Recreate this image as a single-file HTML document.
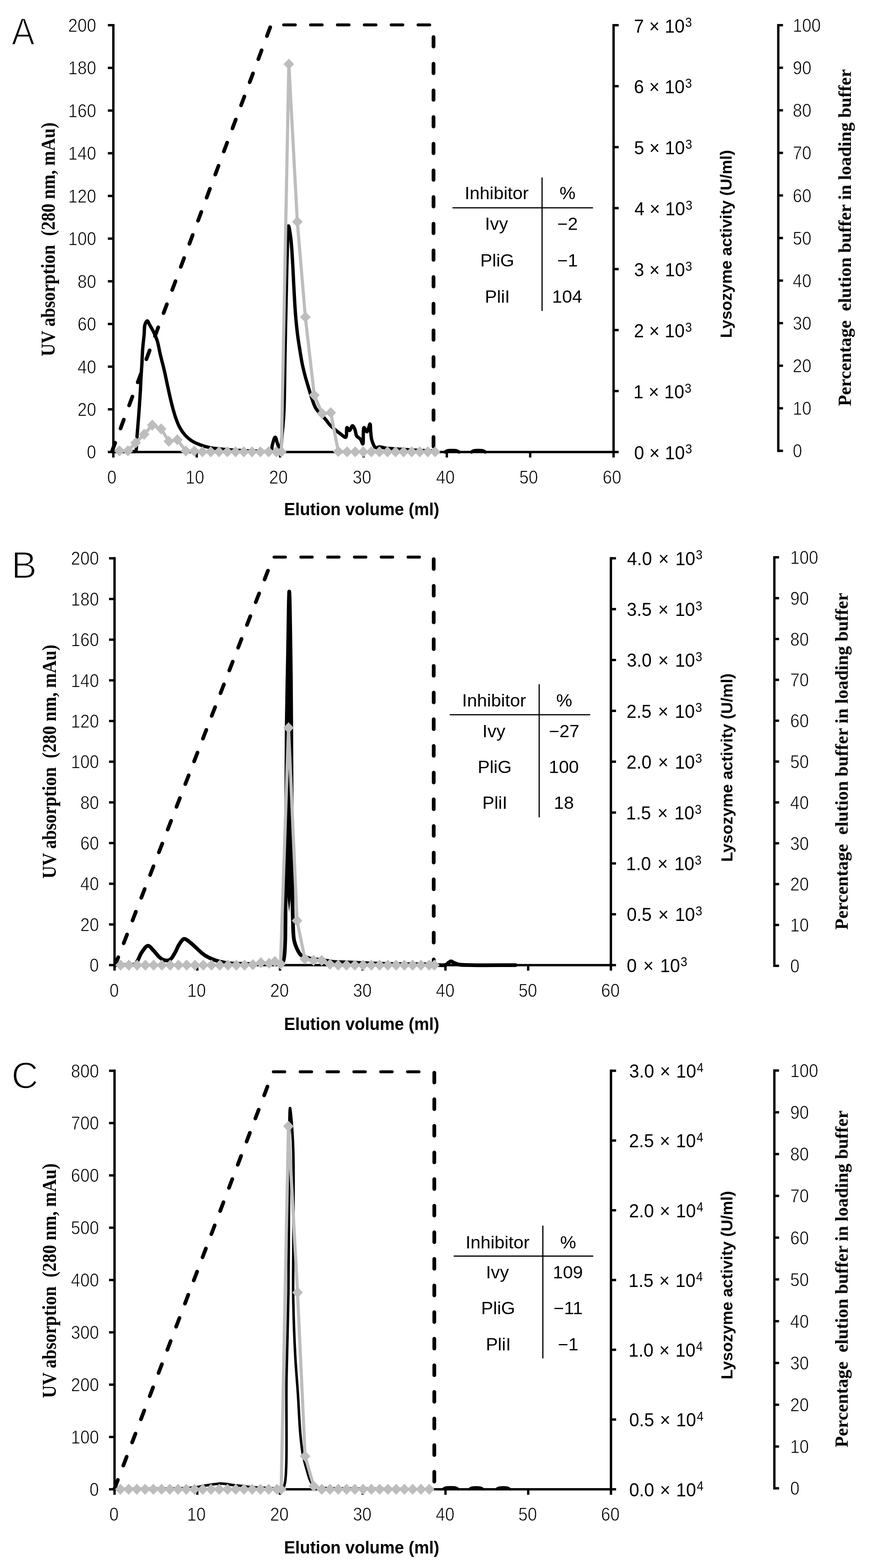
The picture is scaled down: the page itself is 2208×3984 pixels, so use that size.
<!DOCTYPE html>
<html><head><meta charset="utf-8"><title>Lysozyme elution profiles</title>
<style>html,body{margin:0;padding:0;background:#fff;}svg{display:block;}</style></head>
<body><svg width="2208" height="3984" viewBox="0 0 2208 3984">
<rect width="2208" height="3984" fill="#fff"/>
<text transform="translate(29.62,113.2) scale(0.91,1)" font-family='"Liberation Sans", Arial, sans-serif' font-weight="normal" font-size="96.51" fill="#000" stroke="#fff" stroke-width="2.6">A</text>
<line x1="288" y1="61" x2="288" y2="1151.5" stroke="#000" stroke-width="6" stroke-linecap="butt" />
<line x1="288" y1="1148.5" x2="1559" y2="1148.5" stroke="#000" stroke-width="6" stroke-linecap="butt" />
<line x1="1559" y1="61" x2="1559" y2="1151.5" stroke="#000" stroke-width="6" stroke-linecap="butt" />
<line x1="1977.5" y1="61" x2="1977.5" y2="1148.5" stroke="#000" stroke-width="6" stroke-linecap="butt" />
<g stroke="#fff" stroke-width="1.0">
<line x1="274" y1="1148.5" x2="288" y2="1148.5" stroke="#000" stroke-width="6" stroke-linecap="butt" />
<text transform="translate(220.56,1165.43) scale(0.88,1)" font-family='"Liberation Sans", Arial, sans-serif' font-weight="normal" font-size="48.5">0</text>
<line x1="274" y1="1040.05" x2="288" y2="1040.05" stroke="#000" stroke-width="6" stroke-linecap="butt" />
<text transform="translate(196.96,1056.98) scale(0.88,1)" font-family='"Liberation Sans", Arial, sans-serif' font-weight="normal" font-size="48.5">20</text>
<line x1="274" y1="931.6" x2="288" y2="931.6" stroke="#000" stroke-width="6" stroke-linecap="butt" />
<text transform="translate(196.96,948.53) scale(0.88,1)" font-family='"Liberation Sans", Arial, sans-serif' font-weight="normal" font-size="48.5">40</text>
<line x1="274" y1="823.15" x2="288" y2="823.15" stroke="#000" stroke-width="6" stroke-linecap="butt" />
<text transform="translate(196.96,840.08) scale(0.88,1)" font-family='"Liberation Sans", Arial, sans-serif' font-weight="normal" font-size="48.5">60</text>
<line x1="274" y1="714.7" x2="288" y2="714.7" stroke="#000" stroke-width="6" stroke-linecap="butt" />
<text transform="translate(196.96,731.63) scale(0.88,1)" font-family='"Liberation Sans", Arial, sans-serif' font-weight="normal" font-size="48.5">80</text>
<line x1="274" y1="606.25" x2="288" y2="606.25" stroke="#000" stroke-width="6" stroke-linecap="butt" />
<text transform="translate(173.37,623.18) scale(0.88,1)" font-family='"Liberation Sans", Arial, sans-serif' font-weight="normal" font-size="48.5">100</text>
<line x1="274" y1="497.8" x2="288" y2="497.8" stroke="#000" stroke-width="6" stroke-linecap="butt" />
<text transform="translate(173.37,514.73) scale(0.88,1)" font-family='"Liberation Sans", Arial, sans-serif' font-weight="normal" font-size="48.5">120</text>
<line x1="274" y1="389.35" x2="288" y2="389.35" stroke="#000" stroke-width="6" stroke-linecap="butt" />
<text transform="translate(173.37,406.28) scale(0.88,1)" font-family='"Liberation Sans", Arial, sans-serif' font-weight="normal" font-size="48.5">140</text>
<line x1="274" y1="280.9" x2="288" y2="280.9" stroke="#000" stroke-width="6" stroke-linecap="butt" />
<text transform="translate(173.37,297.83) scale(0.88,1)" font-family='"Liberation Sans", Arial, sans-serif' font-weight="normal" font-size="48.5">160</text>
<line x1="274" y1="172.45" x2="288" y2="172.45" stroke="#000" stroke-width="6" stroke-linecap="butt" />
<text transform="translate(173.37,189.38) scale(0.88,1)" font-family='"Liberation Sans", Arial, sans-serif' font-weight="normal" font-size="48.5">180</text>
<line x1="274" y1="64" x2="288" y2="64" stroke="#000" stroke-width="6" stroke-linecap="butt" />
<text transform="translate(173.37,80.93) scale(0.88,1)" font-family='"Liberation Sans", Arial, sans-serif' font-weight="normal" font-size="48.5">200</text>
<line x1="288" y1="1148.5" x2="288" y2="1162.5" stroke="#000" stroke-width="6" stroke-linecap="butt" />
<text transform="translate(272.2,1229) scale(0.88,1)" font-family='"Liberation Sans", Arial, sans-serif' font-weight="normal" font-size="48.5">0</text>
<line x1="499.83" y1="1148.5" x2="499.83" y2="1162.5" stroke="#000" stroke-width="6" stroke-linecap="butt" />
<text transform="translate(471.45,1229) scale(0.88,1)" font-family='"Liberation Sans", Arial, sans-serif' font-weight="normal" font-size="48.5">10</text>
<line x1="711.67" y1="1148.5" x2="711.67" y2="1162.5" stroke="#000" stroke-width="6" stroke-linecap="butt" />
<text transform="translate(683.84,1229) scale(0.88,1)" font-family='"Liberation Sans", Arial, sans-serif' font-weight="normal" font-size="48.5">20</text>
<line x1="923.5" y1="1148.5" x2="923.5" y2="1162.5" stroke="#000" stroke-width="6" stroke-linecap="butt" />
<text transform="translate(895.93,1229) scale(0.88,1)" font-family='"Liberation Sans", Arial, sans-serif' font-weight="normal" font-size="48.5">30</text>
<line x1="1135.33" y1="1148.5" x2="1135.33" y2="1162.5" stroke="#000" stroke-width="6" stroke-linecap="butt" />
<text transform="translate(1108.08,1229) scale(0.88,1)" font-family='"Liberation Sans", Arial, sans-serif' font-weight="normal" font-size="48.5">40</text>
<line x1="1347.17" y1="1148.5" x2="1347.17" y2="1162.5" stroke="#000" stroke-width="6" stroke-linecap="butt" />
<text transform="translate(1319.55,1229) scale(0.88,1)" font-family='"Liberation Sans", Arial, sans-serif' font-weight="normal" font-size="48.5">50</text>
<line x1="1559" y1="1148.5" x2="1559" y2="1162.5" stroke="#000" stroke-width="6" stroke-linecap="butt" />
<text transform="translate(1531.15,1229) scale(0.88,1)" font-family='"Liberation Sans", Arial, sans-serif' font-weight="normal" font-size="48.5">60</text>
</g>
<line x1="1559" y1="1148.5" x2="1572" y2="1148.5" stroke="#000" stroke-width="6" stroke-linecap="butt" />
<text word-spacing="0.53" transform="translate(1611.22,1167) scale(0.94,1)" font-family='"Liberation Sans", Arial, sans-serif' font-weight="normal" font-size="48.5">0 × 10</text>
<text transform="translate(1741.5,1152.45) scale(0.94,1)" font-family='"Liberation Sans", Arial, sans-serif' font-weight="normal" font-size="32.5">3</text>
<line x1="1559" y1="993.57" x2="1572" y2="993.57" stroke="#000" stroke-width="6" stroke-linecap="butt" />
<text word-spacing="0.53" transform="translate(1609.54,1012.07) scale(0.94,1)" font-family='"Liberation Sans", Arial, sans-serif' font-weight="normal" font-size="48.5">1 × 10</text>
<text transform="translate(1739.81,997.52) scale(0.94,1)" font-family='"Liberation Sans", Arial, sans-serif' font-weight="normal" font-size="32.5">3</text>
<line x1="1559" y1="838.64" x2="1572" y2="838.64" stroke="#000" stroke-width="6" stroke-linecap="butt" />
<text word-spacing="0.53" transform="translate(1610.72,857.14) scale(0.94,1)" font-family='"Liberation Sans", Arial, sans-serif' font-weight="normal" font-size="48.5">2 × 10</text>
<text transform="translate(1741,842.59) scale(0.94,1)" font-family='"Liberation Sans", Arial, sans-serif' font-weight="normal" font-size="32.5">3</text>
<line x1="1559" y1="683.71" x2="1572" y2="683.71" stroke="#000" stroke-width="6" stroke-linecap="butt" />
<text word-spacing="0.53" transform="translate(1611.27,702.21) scale(0.94,1)" font-family='"Liberation Sans", Arial, sans-serif' font-weight="normal" font-size="48.5">3 × 10</text>
<text transform="translate(1741.55,687.66) scale(0.94,1)" font-family='"Liberation Sans", Arial, sans-serif' font-weight="normal" font-size="32.5">3</text>
<line x1="1559" y1="528.79" x2="1572" y2="528.79" stroke="#000" stroke-width="6" stroke-linecap="butt" />
<text word-spacing="0.53" transform="translate(1611.95,547.29) scale(0.94,1)" font-family='"Liberation Sans", Arial, sans-serif' font-weight="normal" font-size="48.5">4 × 10</text>
<text transform="translate(1742.23,532.74) scale(0.94,1)" font-family='"Liberation Sans", Arial, sans-serif' font-weight="normal" font-size="32.5">3</text>
<line x1="1559" y1="373.86" x2="1572" y2="373.86" stroke="#000" stroke-width="6" stroke-linecap="butt" />
<text word-spacing="0.53" transform="translate(1611.18,392.36) scale(0.94,1)" font-family='"Liberation Sans", Arial, sans-serif' font-weight="normal" font-size="48.5">5 × 10</text>
<text transform="translate(1741.45,377.81) scale(0.94,1)" font-family='"Liberation Sans", Arial, sans-serif' font-weight="normal" font-size="32.5">3</text>
<line x1="1559" y1="218.93" x2="1572" y2="218.93" stroke="#000" stroke-width="6" stroke-linecap="butt" />
<text word-spacing="0.53" transform="translate(1610.67,237.43) scale(0.94,1)" font-family='"Liberation Sans", Arial, sans-serif' font-weight="normal" font-size="48.5">6 × 10</text>
<text transform="translate(1740.95,222.88) scale(0.94,1)" font-family='"Liberation Sans", Arial, sans-serif' font-weight="normal" font-size="32.5">3</text>
<line x1="1559" y1="64" x2="1572" y2="64" stroke="#000" stroke-width="6" stroke-linecap="butt" />
<text word-spacing="0.53" transform="translate(1610.67,82.5) scale(0.94,1)" font-family='"Liberation Sans", Arial, sans-serif' font-weight="normal" font-size="48.5">7 × 10</text>
<text transform="translate(1740.95,67.95) scale(0.94,1)" font-family='"Liberation Sans", Arial, sans-serif' font-weight="normal" font-size="32.5">3</text>
<g stroke="#fff" stroke-width="1.0">
<line x1="1977.5" y1="1145.5" x2="1989.5" y2="1145.5" stroke="#000" stroke-width="6" stroke-linecap="butt" />
<text transform="translate(2014.34,1162.43) scale(0.88,1)" font-family='"Liberation Sans", Arial, sans-serif' font-size="48.5">0</text>
<line x1="1977.5" y1="1037.35" x2="1989.5" y2="1037.35" stroke="#000" stroke-width="6" stroke-linecap="butt" />
<text transform="translate(2014.34,1054.28) scale(0.88,1)" font-family='"Liberation Sans", Arial, sans-serif' font-size="48.5">10</text>
<line x1="1977.5" y1="929.2" x2="1989.5" y2="929.2" stroke="#000" stroke-width="6" stroke-linecap="butt" />
<text transform="translate(2014.34,946.13) scale(0.88,1)" font-family='"Liberation Sans", Arial, sans-serif' font-size="48.5">20</text>
<line x1="1977.5" y1="821.05" x2="1989.5" y2="821.05" stroke="#000" stroke-width="6" stroke-linecap="butt" />
<text transform="translate(2014.34,837.98) scale(0.88,1)" font-family='"Liberation Sans", Arial, sans-serif' font-size="48.5">30</text>
<line x1="1977.5" y1="712.9" x2="1989.5" y2="712.9" stroke="#000" stroke-width="6" stroke-linecap="butt" />
<text transform="translate(2014.34,729.83) scale(0.88,1)" font-family='"Liberation Sans", Arial, sans-serif' font-size="48.5">40</text>
<line x1="1977.5" y1="604.75" x2="1989.5" y2="604.75" stroke="#000" stroke-width="6" stroke-linecap="butt" />
<text transform="translate(2014.34,621.68) scale(0.88,1)" font-family='"Liberation Sans", Arial, sans-serif' font-size="48.5">50</text>
<line x1="1977.5" y1="496.6" x2="1989.5" y2="496.6" stroke="#000" stroke-width="6" stroke-linecap="butt" />
<text transform="translate(2014.34,513.53) scale(0.88,1)" font-family='"Liberation Sans", Arial, sans-serif' font-size="48.5">60</text>
<line x1="1977.5" y1="388.45" x2="1989.5" y2="388.45" stroke="#000" stroke-width="6" stroke-linecap="butt" />
<text transform="translate(2014.34,405.38) scale(0.88,1)" font-family='"Liberation Sans", Arial, sans-serif' font-size="48.5">70</text>
<line x1="1977.5" y1="280.3" x2="1989.5" y2="280.3" stroke="#000" stroke-width="6" stroke-linecap="butt" />
<text transform="translate(2014.34,297.23) scale(0.88,1)" font-family='"Liberation Sans", Arial, sans-serif' font-size="48.5">80</text>
<line x1="1977.5" y1="172.15" x2="1989.5" y2="172.15" stroke="#000" stroke-width="6" stroke-linecap="butt" />
<text transform="translate(2014.34,189.08) scale(0.88,1)" font-family='"Liberation Sans", Arial, sans-serif' font-size="48.5">90</text>
<line x1="1977.5" y1="64" x2="1989.5" y2="64" stroke="#000" stroke-width="6" stroke-linecap="butt" />
<text transform="translate(2014.34,80.93) scale(0.88,1)" font-family='"Liberation Sans", Arial, sans-serif' font-size="48.5">100</text>
</g>
<text transform="translate(721.75,1308.5) scale(0.95,1)" font-family='"Liberation Sans", Arial, sans-serif' font-weight="bold" font-size="44.77" fill="#000" >Elution volume (ml)</text>
<text transform="translate(139,905.13) rotate(-90) scale(0.88,1)" font-family='"Liberation Serif", "Times New Roman", serif' font-weight="bold" font-size="51.15">UV absorption &#160;(280 nm, mAu)</text>
<text transform="translate(1859.2,858.76) rotate(-90) scale(1.02,1)" font-family='"Liberation Sans", Arial, sans-serif' font-weight="bold" font-size="40.26">Lysozyme activity (U/ml)</text>
<text transform="translate(2161.5,1031.79) rotate(-90) scale(0.98,1)" font-family='"Liberation Serif", "Times New Roman", serif' font-weight="bold" font-size="47.33">Percentage &#160;elution buffer in loading buffer</text>
<line x1="1377.3" y1="451" x2="1377.3" y2="790" stroke="#000" stroke-width="3" stroke-linecap="butt" />
<line x1="1149.6" y1="528" x2="1506.7" y2="528" stroke="#000" stroke-width="3" stroke-linecap="butt" />
<text transform="translate(1180.63,505.6) scale(1.05,1)" font-family='"Liberation Sans", Arial, sans-serif' font-weight="normal" font-size="43.5">Inhibitor</text>
<text transform="translate(1421.67,505.6) scale(1.05,1)" font-family='"Liberation Sans", Arial, sans-serif' font-weight="normal" font-size="43.5">%</text>
<text transform="translate(1232.36,584) scale(1.05,1)" font-family='"Liberation Sans", Arial, sans-serif' font-weight="normal" font-size="43.5">Ivy</text>
<text transform="translate(1415.99,584) scale(1.05,1)" font-family='"Liberation Sans", Arial, sans-serif' font-weight="normal" font-size="43.5">−2</text>
<text transform="translate(1220.3,676.5) scale(1.05,1)" font-family='"Liberation Sans", Arial, sans-serif' font-weight="normal" font-size="43.5">PliG</text>
<text transform="translate(1415.97,676.5) scale(1.05,1)" font-family='"Liberation Sans", Arial, sans-serif' font-weight="normal" font-size="43.5">−1</text>
<text transform="translate(1232.11,769) scale(1.05,1)" font-family='"Liberation Sans", Arial, sans-serif' font-weight="normal" font-size="43.5">PliI</text>
<text transform="translate(1402.83,769) scale(1.05,1)" font-family='"Liberation Sans", Arial, sans-serif' font-weight="normal" font-size="43.5">104</text>
<line x1="285.17" y1="1145.03" x2="292.69" y2="1124.89" stroke="#000" stroke-width="9.5" stroke-linecap="round" />
<line x1="306.18" y1="1088.72" x2="314.57" y2="1066.24" stroke="#000" stroke-width="9.5" stroke-linecap="round" />
<line x1="328.07" y1="1030.07" x2="336.45" y2="1007.59" stroke="#000" stroke-width="9.5" stroke-linecap="round" />
<line x1="349.95" y1="971.42" x2="358.34" y2="948.94" stroke="#000" stroke-width="9.5" stroke-linecap="round" />
<line x1="371.83" y1="912.77" x2="380.22" y2="890.28" stroke="#000" stroke-width="9.5" stroke-linecap="round" />
<line x1="393.71" y1="854.12" x2="402.1" y2="831.63" stroke="#000" stroke-width="9.5" stroke-linecap="round" />
<line x1="415.59" y1="795.47" x2="423.98" y2="772.98" stroke="#000" stroke-width="9.5" stroke-linecap="round" />
<line x1="437.48" y1="736.82" x2="445.87" y2="714.33" stroke="#000" stroke-width="9.5" stroke-linecap="round" />
<line x1="459.36" y1="678.17" x2="467.75" y2="655.68" stroke="#000" stroke-width="9.5" stroke-linecap="round" />
<line x1="481.24" y1="619.52" x2="489.63" y2="597.03" stroke="#000" stroke-width="9.5" stroke-linecap="round" />
<line x1="503.12" y1="560.86" x2="511.51" y2="538.38" stroke="#000" stroke-width="9.5" stroke-linecap="round" />
<line x1="525.01" y1="502.21" x2="533.39" y2="479.73" stroke="#000" stroke-width="9.5" stroke-linecap="round" />
<line x1="546.89" y1="443.56" x2="555.28" y2="421.08" stroke="#000" stroke-width="9.5" stroke-linecap="round" />
<line x1="568.77" y1="384.91" x2="577.16" y2="362.43" stroke="#000" stroke-width="9.5" stroke-linecap="round" />
<line x1="590.65" y1="326.26" x2="599.04" y2="303.78" stroke="#000" stroke-width="9.5" stroke-linecap="round" />
<line x1="612.53" y1="267.61" x2="620.92" y2="245.12" stroke="#000" stroke-width="9.5" stroke-linecap="round" />
<line x1="634.42" y1="208.96" x2="642.81" y2="186.47" stroke="#000" stroke-width="9.5" stroke-linecap="round" />
<line x1="656.3" y1="150.31" x2="664.69" y2="127.82" stroke="#000" stroke-width="9.5" stroke-linecap="round" />
<line x1="678.18" y1="91.66" x2="686.57" y2="69.17" stroke="#000" stroke-width="9.5" stroke-linecap="round" />
<line x1="720.75" y1="63.3" x2="750.25" y2="63.3" stroke="#000" stroke-width="7.5" stroke-linecap="round" />
<line x1="789.05" y1="63.3" x2="818.55" y2="63.3" stroke="#000" stroke-width="7.5" stroke-linecap="round" />
<line x1="857.35" y1="63.3" x2="886.85" y2="63.3" stroke="#000" stroke-width="7.5" stroke-linecap="round" />
<line x1="925.65" y1="63.3" x2="955.15" y2="63.3" stroke="#000" stroke-width="7.5" stroke-linecap="round" />
<line x1="993.95" y1="63.3" x2="1023.45" y2="63.3" stroke="#000" stroke-width="7.5" stroke-linecap="round" />
<line x1="1062.25" y1="63.3" x2="1091.75" y2="63.3" stroke="#000" stroke-width="7.5" stroke-linecap="round" />
<line x1="1101.5" y1="94.25" x2="1101.5" y2="118.25" stroke="#000" stroke-width="9.5" stroke-linecap="round" />
<line x1="1101.5" y1="162" x2="1101.5" y2="186" stroke="#000" stroke-width="9.5" stroke-linecap="round" />
<line x1="1101.5" y1="229.75" x2="1101.5" y2="253.75" stroke="#000" stroke-width="9.5" stroke-linecap="round" />
<line x1="1101.5" y1="297.5" x2="1101.5" y2="321.5" stroke="#000" stroke-width="9.5" stroke-linecap="round" />
<line x1="1101.5" y1="365.25" x2="1101.5" y2="389.25" stroke="#000" stroke-width="9.5" stroke-linecap="round" />
<line x1="1101.5" y1="433" x2="1101.5" y2="457" stroke="#000" stroke-width="9.5" stroke-linecap="round" />
<line x1="1101.5" y1="500.75" x2="1101.5" y2="524.75" stroke="#000" stroke-width="9.5" stroke-linecap="round" />
<line x1="1101.5" y1="568.5" x2="1101.5" y2="592.5" stroke="#000" stroke-width="9.5" stroke-linecap="round" />
<line x1="1101.5" y1="636.25" x2="1101.5" y2="660.25" stroke="#000" stroke-width="9.5" stroke-linecap="round" />
<line x1="1101.5" y1="704" x2="1101.5" y2="728" stroke="#000" stroke-width="9.5" stroke-linecap="round" />
<line x1="1101.5" y1="771.75" x2="1101.5" y2="795.75" stroke="#000" stroke-width="9.5" stroke-linecap="round" />
<line x1="1101.5" y1="839.5" x2="1101.5" y2="863.5" stroke="#000" stroke-width="9.5" stroke-linecap="round" />
<line x1="1101.5" y1="907.25" x2="1101.5" y2="931.25" stroke="#000" stroke-width="9.5" stroke-linecap="round" />
<line x1="1101.5" y1="975" x2="1101.5" y2="999" stroke="#000" stroke-width="9.5" stroke-linecap="round" />
<line x1="1101.5" y1="1042.75" x2="1101.5" y2="1066.75" stroke="#000" stroke-width="9.5" stroke-linecap="round" />
<line x1="1101.5" y1="1110.5" x2="1101.5" y2="1134.5" stroke="#000" stroke-width="9.5" stroke-linecap="round" />
<path d="M290 1147C307.67 1147 337.64 1147.47 343 1147C343.97 1146.92 344.18 1147.26 344.7 1146.7C347.28 1143.89 347.34 1118.36 348.6 1103.5C349.94 1087.68 351.24 1071.58 352.5 1054.5C353.88 1035.8 355.47 1013.32 356.5 995.7C357.34 981.32 357.69 968.64 358.4 956.5C359.01 945.97 359.77 937.53 360.4 927C361.12 914.86 361.42 900.85 362.4 887.8C363.38 874.72 365.27 860.02 366.3 848.6C367.1 839.74 366.26 830.98 368.2 825C369.54 820.86 372.13 815.3 374.1 815.3C376.07 815.3 377.75 821.09 380 825C383.32 830.76 388.45 839.55 391.8 846.7C394.9 853.31 397.26 858.7 399.6 866.3C402.67 876.25 404.64 889.54 407.5 901.6C410.52 914.34 414.15 927.25 417.3 940.8C420.67 955.28 423.7 971.05 427 985.9C430.23 1000.44 433.4 1015.6 436.9 1029C440.01 1040.89 443.14 1052.33 446.7 1062.4C449.75 1071.01 452.5 1078.62 456.5 1085.9C460.38 1092.95 465.1 1099.82 470.2 1105.5C474.96 1110.81 480.11 1115.32 485.9 1119.2C491.84 1123.18 498.41 1126.15 505.5 1129C513.32 1132.14 522.14 1134.95 531 1136.9C540.27 1138.95 549.54 1139.68 560 1140.8C572.25 1142.11 585.91 1143.16 600 1144C615.73 1144.94 634.47 1145.69 650 1146C663.53 1146.27 681.87 1150.75 688 1146C691.88 1143 690.18 1136.57 691.8 1131.3C693.75 1124.97 696.75 1110.69 699.2 1110.7C701.65 1110.71 703.93 1126 706.5 1131.3C708.27 1134.94 710.5 1140.33 712 1140C714.89 1139.36 715.44 1115.67 716.9 1101.9C718.61 1085.68 720.17 1070.95 721.3 1048.8C723.19 1011.95 723.22 950.46 724.2 901.3C725.18 852.16 726.16 800.3 727.2 753.9C728.13 712.38 728.89 668.94 730.1 635.9C730.97 611.96 731.12 574.13 733.1 574C734.54 573.9 737.41 593.95 739 606.4C741.14 623.09 742.17 645.73 743.4 665.4C744.63 685.06 745.25 703.64 746.4 724.4C747.68 747.6 749.01 775.7 750.8 798.1C752.3 816.93 753.98 833.85 756 850C757.78 864.22 759.93 877.12 762 890C763.94 902.07 765.63 913.54 768 925C770.32 936.2 773.2 947.58 776 958C778.55 967.48 781.29 976.01 784 985C786.72 994.01 789.13 1003.1 792.3 1012C795.49 1020.97 797.8 1030.08 803.1 1038.6C809.13 1048.28 821.35 1058.55 827.8 1066.3C832.24 1071.64 834.56 1075.88 838.6 1080.2C842.74 1084.63 847.73 1088.61 852.4 1092.5C856.96 1096.3 861.73 1100.11 866.3 1103.3C870.45 1106.2 875.93 1112.27 878.6 1111C882.09 1109.34 879.29 1086.98 881.7 1086.3C883.22 1085.87 885.81 1094.12 887.9 1094C890.43 1093.85 893.16 1081.73 895.6 1081.7C897.73 1081.68 900.03 1087.28 901.7 1091C903.8 1095.66 903.56 1103.66 906.3 1107.9C908.57 1111.42 913.06 1112.42 915.6 1115.6C918.31 1119 920.28 1128.2 921.8 1127.9C924.45 1127.37 921.53 1087.22 924.8 1086.3C926.64 1085.78 930.17 1097.39 932.5 1097.1C935.46 1096.73 938.67 1076.88 940.2 1077.1C941.63 1077.3 941.08 1089.1 941.8 1095.6C942.6 1102.88 942.72 1111.59 944.9 1118.7C946.95 1125.39 949.94 1135.03 954.1 1137.2C957.12 1138.78 960.99 1135.5 964.9 1135.6C969.59 1135.72 974.83 1137.94 980.3 1138.7C986.44 1139.55 992.28 1139.64 1000 1140.2C1011 1141 1025.31 1142.12 1040 1143C1057.97 1144.08 1080 1145 1100 1146" fill="none" stroke="#000" stroke-width="8.5" stroke-linejoin="round" stroke-linecap="round" />
<path d="M1131 1148.5C1133 1147.5 1134.25 1146.15 1137 1145.5C1142.09 1144.3 1154.91 1144.3 1160 1145.5C1162.75 1146.15 1164 1147.5 1166 1148.5" fill="none" stroke="#000" stroke-width="8.5" stroke-linejoin="round" stroke-linecap="round" />
<path d="M1198 1148.5C1200 1147.5 1201.25 1146.15 1204 1145.5C1209.09 1144.3 1221.91 1144.3 1227 1145.5C1229.75 1146.15 1231 1147.5 1233 1148.5" fill="none" stroke="#000" stroke-width="8.5" stroke-linejoin="round" stroke-linecap="round" />
<polyline points="303.5,1145.5 325,1145.5 344.7,1125 366.3,1103.5 386.9,1080 409.4,1089.8 429,1121.2 450.6,1117.3 472.2,1146 493.7,1146 514.5,1148 535.5,1148 556.5,1148 577.5,1148 598.5,1148 619.5,1148 640.5,1148 661.5,1148 682.5,1148 702.3,1148 714.9,1148 733.9,163 755.5,563.6 775.8,805.5 798.5,1003.9 818.6,1051 840.4,1048.5 859.5,1147 881.9,1148 902.5,1148 923,1148 943.5,1148 964,1148 984.5,1148 1005,1148 1025.5,1148 1046,1148 1066.5,1148 1087,1148 1105.6,1148" fill="none" stroke="#bdbdbd" stroke-width="8" stroke-linejoin="round" stroke-linecap="round" />
<path d="M303.5 1131.5L317 1145.5L303.5 1159.5L290 1145.5ZM325 1131.5L338.5 1145.5L325 1159.5L311.5 1145.5ZM344.7 1111L358.2 1125L344.7 1139L331.2 1125ZM366.3 1089.5L379.8 1103.5L366.3 1117.5L352.8 1103.5ZM386.9 1066L400.4 1080L386.9 1094L373.4 1080ZM409.4 1075.8L422.9 1089.8L409.4 1103.8L395.9 1089.8ZM429 1107.2L442.5 1121.2L429 1135.2L415.5 1121.2ZM450.6 1103.3L464.1 1117.3L450.6 1131.3L437.1 1117.3ZM472.2 1132L485.7 1146L472.2 1160L458.7 1146ZM493.7 1132L507.2 1146L493.7 1160L480.2 1146ZM514.5 1134L528 1148L514.5 1162L501 1148ZM535.5 1134L549 1148L535.5 1162L522 1148ZM556.5 1134L570 1148L556.5 1162L543 1148ZM577.5 1134L591 1148L577.5 1162L564 1148ZM598.5 1134L612 1148L598.5 1162L585 1148ZM619.5 1134L633 1148L619.5 1162L606 1148ZM640.5 1134L654 1148L640.5 1162L627 1148ZM661.5 1134L675 1148L661.5 1162L648 1148ZM682.5 1134L696 1148L682.5 1162L669 1148ZM702.3 1134L715.8 1148L702.3 1162L688.8 1148ZM714.9 1134L728.4 1148L714.9 1162L701.4 1148ZM733.9 149L747.4 163L733.9 177L720.4 163ZM755.5 549.6L769 563.6L755.5 577.6L742 563.6ZM775.8 791.5L789.3 805.5L775.8 819.5L762.3 805.5ZM798.5 989.9L812 1003.9L798.5 1017.9L785 1003.9ZM818.6 1037L832.1 1051L818.6 1065L805.1 1051ZM840.4 1034.5L853.9 1048.5L840.4 1062.5L826.9 1048.5ZM859.5 1133L873 1147L859.5 1161L846 1147ZM881.9 1134L895.4 1148L881.9 1162L868.4 1148ZM902.5 1134L916 1148L902.5 1162L889 1148ZM923 1134L936.5 1148L923 1162L909.5 1148ZM943.5 1134L957 1148L943.5 1162L930 1148ZM964 1134L977.5 1148L964 1162L950.5 1148ZM984.5 1134L998 1148L984.5 1162L971 1148ZM1005 1134L1018.5 1148L1005 1162L991.5 1148ZM1025.5 1134L1039 1148L1025.5 1162L1012 1148ZM1046 1134L1059.5 1148L1046 1162L1032.5 1148ZM1066.5 1134L1080 1148L1066.5 1162L1053 1148ZM1087 1134L1100.5 1148L1087 1162L1073.5 1148ZM1105.6 1134L1119.1 1148L1105.6 1162L1092.1 1148Z" fill="#bdbdbd"/>
<text transform="translate(28.68,1469.2) scale(1,1)" font-family='"Liberation Sans", Arial, sans-serif' font-weight="normal" font-size="97.09" fill="#000" stroke="#fff" stroke-width="2.6">B</text>
<line x1="291" y1="1415.5" x2="291" y2="2455.2" stroke="#000" stroke-width="6" stroke-linecap="butt" />
<line x1="291" y1="2452.2" x2="1552.2" y2="2452.2" stroke="#000" stroke-width="6" stroke-linecap="butt" />
<line x1="1552.2" y1="1415.5" x2="1552.2" y2="2455.2" stroke="#000" stroke-width="6" stroke-linecap="butt" />
<line x1="1967.5" y1="1413" x2="1967.5" y2="2457" stroke="#000" stroke-width="6" stroke-linecap="butt" />
<g stroke="#fff" stroke-width="1.0">
<line x1="277" y1="2452.2" x2="291" y2="2452.2" stroke="#000" stroke-width="6" stroke-linecap="butt" />
<text transform="translate(227.56,2469.13) scale(0.88,1)" font-family='"Liberation Sans", Arial, sans-serif' font-weight="normal" font-size="48.5">0</text>
<line x1="277" y1="2348.83" x2="291" y2="2348.83" stroke="#000" stroke-width="6" stroke-linecap="butt" />
<text transform="translate(203.96,2365.76) scale(0.88,1)" font-family='"Liberation Sans", Arial, sans-serif' font-weight="normal" font-size="48.5">20</text>
<line x1="277" y1="2245.46" x2="291" y2="2245.46" stroke="#000" stroke-width="6" stroke-linecap="butt" />
<text transform="translate(203.96,2262.39) scale(0.88,1)" font-family='"Liberation Sans", Arial, sans-serif' font-weight="normal" font-size="48.5">40</text>
<line x1="277" y1="2142.09" x2="291" y2="2142.09" stroke="#000" stroke-width="6" stroke-linecap="butt" />
<text transform="translate(203.96,2159.02) scale(0.88,1)" font-family='"Liberation Sans", Arial, sans-serif' font-weight="normal" font-size="48.5">60</text>
<line x1="277" y1="2038.72" x2="291" y2="2038.72" stroke="#000" stroke-width="6" stroke-linecap="butt" />
<text transform="translate(203.96,2055.65) scale(0.88,1)" font-family='"Liberation Sans", Arial, sans-serif' font-weight="normal" font-size="48.5">80</text>
<line x1="277" y1="1935.35" x2="291" y2="1935.35" stroke="#000" stroke-width="6" stroke-linecap="butt" />
<text transform="translate(180.37,1952.28) scale(0.88,1)" font-family='"Liberation Sans", Arial, sans-serif' font-weight="normal" font-size="48.5">100</text>
<line x1="277" y1="1831.98" x2="291" y2="1831.98" stroke="#000" stroke-width="6" stroke-linecap="butt" />
<text transform="translate(180.37,1848.91) scale(0.88,1)" font-family='"Liberation Sans", Arial, sans-serif' font-weight="normal" font-size="48.5">120</text>
<line x1="277" y1="1728.61" x2="291" y2="1728.61" stroke="#000" stroke-width="6" stroke-linecap="butt" />
<text transform="translate(180.37,1745.54) scale(0.88,1)" font-family='"Liberation Sans", Arial, sans-serif' font-weight="normal" font-size="48.5">140</text>
<line x1="277" y1="1625.24" x2="291" y2="1625.24" stroke="#000" stroke-width="6" stroke-linecap="butt" />
<text transform="translate(180.37,1642.17) scale(0.88,1)" font-family='"Liberation Sans", Arial, sans-serif' font-weight="normal" font-size="48.5">160</text>
<line x1="277" y1="1521.87" x2="291" y2="1521.87" stroke="#000" stroke-width="6" stroke-linecap="butt" />
<text transform="translate(180.37,1538.8) scale(0.88,1)" font-family='"Liberation Sans", Arial, sans-serif' font-weight="normal" font-size="48.5">180</text>
<line x1="277" y1="1418.5" x2="291" y2="1418.5" stroke="#000" stroke-width="6" stroke-linecap="butt" />
<text transform="translate(180.37,1435.43) scale(0.88,1)" font-family='"Liberation Sans", Arial, sans-serif' font-weight="normal" font-size="48.5">200</text>
<line x1="291" y1="2452.2" x2="291" y2="2466.2" stroke="#000" stroke-width="6" stroke-linecap="butt" />
<text transform="translate(278.2,2533.2) scale(0.88,1)" font-family='"Liberation Sans", Arial, sans-serif' font-weight="normal" font-size="48.5">0</text>
<line x1="501.2" y1="2452.2" x2="501.2" y2="2466.2" stroke="#000" stroke-width="6" stroke-linecap="butt" />
<text transform="translate(475.82,2533.2) scale(0.88,1)" font-family='"Liberation Sans", Arial, sans-serif' font-weight="normal" font-size="48.5">10</text>
<line x1="711.4" y1="2452.2" x2="711.4" y2="2466.2" stroke="#000" stroke-width="6" stroke-linecap="butt" />
<text transform="translate(686.57,2533.2) scale(0.88,1)" font-family='"Liberation Sans", Arial, sans-serif' font-weight="normal" font-size="48.5">20</text>
<line x1="921.6" y1="2452.2" x2="921.6" y2="2466.2" stroke="#000" stroke-width="6" stroke-linecap="butt" />
<text transform="translate(897.03,2533.2) scale(0.88,1)" font-family='"Liberation Sans", Arial, sans-serif' font-weight="normal" font-size="48.5">30</text>
<line x1="1131.8" y1="2452.2" x2="1131.8" y2="2466.2" stroke="#000" stroke-width="6" stroke-linecap="butt" />
<text transform="translate(1107.54,2533.2) scale(0.88,1)" font-family='"Liberation Sans", Arial, sans-serif' font-weight="normal" font-size="48.5">40</text>
<line x1="1342" y1="2452.2" x2="1342" y2="2466.2" stroke="#000" stroke-width="6" stroke-linecap="butt" />
<text transform="translate(1317.38,2533.2) scale(0.88,1)" font-family='"Liberation Sans", Arial, sans-serif' font-weight="normal" font-size="48.5">50</text>
<line x1="1552.2" y1="2452.2" x2="1552.2" y2="2466.2" stroke="#000" stroke-width="6" stroke-linecap="butt" />
<text transform="translate(1527.35,2533.2) scale(0.88,1)" font-family='"Liberation Sans", Arial, sans-serif' font-weight="normal" font-size="48.5">60</text>
</g>
<line x1="1552.2" y1="2452.2" x2="1565.2" y2="2452.2" stroke="#000" stroke-width="6" stroke-linecap="butt" />
<text word-spacing="3.94" transform="translate(1592.52,2469.7) scale(0.94,1)" font-family='"Liberation Sans", Arial, sans-serif' font-weight="normal" font-size="48.5">0 × 10</text>
<text transform="translate(1729.2,2455.15) scale(0.94,1)" font-family='"Liberation Sans", Arial, sans-serif' font-weight="normal" font-size="32.5">3</text>
<line x1="1552.2" y1="2322.99" x2="1565.2" y2="2322.99" stroke="#000" stroke-width="6" stroke-linecap="butt" />
<text word-spacing="3.94" transform="translate(1592.52,2340.49) scale(0.94,1)" font-family='"Liberation Sans", Arial, sans-serif' font-weight="normal" font-size="48.5">0.5 × 10</text>
<text transform="translate(1767.22,2325.94) scale(0.94,1)" font-family='"Liberation Sans", Arial, sans-serif' font-weight="normal" font-size="32.5">3</text>
<line x1="1552.2" y1="2193.77" x2="1565.2" y2="2193.77" stroke="#000" stroke-width="6" stroke-linecap="butt" />
<text word-spacing="3.94" transform="translate(1590.84,2211.27) scale(0.94,1)" font-family='"Liberation Sans", Arial, sans-serif' font-weight="normal" font-size="48.5">1.0 × 10</text>
<text transform="translate(1765.54,2196.72) scale(0.94,1)" font-family='"Liberation Sans", Arial, sans-serif' font-weight="normal" font-size="32.5">3</text>
<line x1="1552.2" y1="2064.56" x2="1565.2" y2="2064.56" stroke="#000" stroke-width="6" stroke-linecap="butt" />
<text word-spacing="3.94" transform="translate(1590.84,2082.06) scale(0.94,1)" font-family='"Liberation Sans", Arial, sans-serif' font-weight="normal" font-size="48.5">1.5 × 10</text>
<text transform="translate(1765.54,2067.51) scale(0.94,1)" font-family='"Liberation Sans", Arial, sans-serif' font-weight="normal" font-size="32.5">3</text>
<line x1="1552.2" y1="1935.35" x2="1565.2" y2="1935.35" stroke="#000" stroke-width="6" stroke-linecap="butt" />
<text word-spacing="3.94" transform="translate(1592.02,1952.85) scale(0.94,1)" font-family='"Liberation Sans", Arial, sans-serif' font-weight="normal" font-size="48.5">2.0 × 10</text>
<text transform="translate(1766.72,1938.3) scale(0.94,1)" font-family='"Liberation Sans", Arial, sans-serif' font-weight="normal" font-size="32.5">3</text>
<line x1="1552.2" y1="1806.14" x2="1565.2" y2="1806.14" stroke="#000" stroke-width="6" stroke-linecap="butt" />
<text word-spacing="3.94" transform="translate(1592.02,1823.64) scale(0.94,1)" font-family='"Liberation Sans", Arial, sans-serif' font-weight="normal" font-size="48.5">2.5 × 10</text>
<text transform="translate(1766.72,1809.09) scale(0.94,1)" font-family='"Liberation Sans", Arial, sans-serif' font-weight="normal" font-size="32.5">3</text>
<line x1="1552.2" y1="1676.92" x2="1565.2" y2="1676.92" stroke="#000" stroke-width="6" stroke-linecap="butt" />
<text word-spacing="3.94" transform="translate(1592.57,1694.42) scale(0.94,1)" font-family='"Liberation Sans", Arial, sans-serif' font-weight="normal" font-size="48.5">3.0 × 10</text>
<text transform="translate(1767.27,1679.88) scale(0.94,1)" font-family='"Liberation Sans", Arial, sans-serif' font-weight="normal" font-size="32.5">3</text>
<line x1="1552.2" y1="1547.71" x2="1565.2" y2="1547.71" stroke="#000" stroke-width="6" stroke-linecap="butt" />
<text word-spacing="3.94" transform="translate(1592.57,1565.21) scale(0.94,1)" font-family='"Liberation Sans", Arial, sans-serif' font-weight="normal" font-size="48.5">3.5 × 10</text>
<text transform="translate(1767.27,1550.66) scale(0.94,1)" font-family='"Liberation Sans", Arial, sans-serif' font-weight="normal" font-size="32.5">3</text>
<line x1="1552.2" y1="1418.5" x2="1565.2" y2="1418.5" stroke="#000" stroke-width="6" stroke-linecap="butt" />
<text word-spacing="3.94" transform="translate(1593.25,1436) scale(0.94,1)" font-family='"Liberation Sans", Arial, sans-serif' font-weight="normal" font-size="48.5">4.0 × 10</text>
<text transform="translate(1767.95,1421.45) scale(0.94,1)" font-family='"Liberation Sans", Arial, sans-serif' font-weight="normal" font-size="32.5">3</text>
<g stroke="#fff" stroke-width="1.0">
<line x1="1967.5" y1="2454" x2="1979.5" y2="2454" stroke="#000" stroke-width="6" stroke-linecap="butt" />
<text transform="translate(2007.74,2470.93) scale(0.88,1)" font-family='"Liberation Sans", Arial, sans-serif' font-size="48.5">0</text>
<line x1="1967.5" y1="2350.2" x2="1979.5" y2="2350.2" stroke="#000" stroke-width="6" stroke-linecap="butt" />
<text transform="translate(2007.74,2367.13) scale(0.88,1)" font-family='"Liberation Sans", Arial, sans-serif' font-size="48.5">10</text>
<line x1="1967.5" y1="2246.4" x2="1979.5" y2="2246.4" stroke="#000" stroke-width="6" stroke-linecap="butt" />
<text transform="translate(2007.74,2263.33) scale(0.88,1)" font-family='"Liberation Sans", Arial, sans-serif' font-size="48.5">20</text>
<line x1="1967.5" y1="2142.6" x2="1979.5" y2="2142.6" stroke="#000" stroke-width="6" stroke-linecap="butt" />
<text transform="translate(2007.74,2159.53) scale(0.88,1)" font-family='"Liberation Sans", Arial, sans-serif' font-size="48.5">30</text>
<line x1="1967.5" y1="2038.8" x2="1979.5" y2="2038.8" stroke="#000" stroke-width="6" stroke-linecap="butt" />
<text transform="translate(2007.74,2055.73) scale(0.88,1)" font-family='"Liberation Sans", Arial, sans-serif' font-size="48.5">40</text>
<line x1="1967.5" y1="1935" x2="1979.5" y2="1935" stroke="#000" stroke-width="6" stroke-linecap="butt" />
<text transform="translate(2007.74,1951.93) scale(0.88,1)" font-family='"Liberation Sans", Arial, sans-serif' font-size="48.5">50</text>
<line x1="1967.5" y1="1831.2" x2="1979.5" y2="1831.2" stroke="#000" stroke-width="6" stroke-linecap="butt" />
<text transform="translate(2007.74,1848.13) scale(0.88,1)" font-family='"Liberation Sans", Arial, sans-serif' font-size="48.5">60</text>
<line x1="1967.5" y1="1727.4" x2="1979.5" y2="1727.4" stroke="#000" stroke-width="6" stroke-linecap="butt" />
<text transform="translate(2007.74,1744.33) scale(0.88,1)" font-family='"Liberation Sans", Arial, sans-serif' font-size="48.5">70</text>
<line x1="1967.5" y1="1623.6" x2="1979.5" y2="1623.6" stroke="#000" stroke-width="6" stroke-linecap="butt" />
<text transform="translate(2007.74,1640.53) scale(0.88,1)" font-family='"Liberation Sans", Arial, sans-serif' font-size="48.5">80</text>
<line x1="1967.5" y1="1519.8" x2="1979.5" y2="1519.8" stroke="#000" stroke-width="6" stroke-linecap="butt" />
<text transform="translate(2007.74,1536.73) scale(0.88,1)" font-family='"Liberation Sans", Arial, sans-serif' font-size="48.5">90</text>
<line x1="1967.5" y1="1416" x2="1979.5" y2="1416" stroke="#000" stroke-width="6" stroke-linecap="butt" />
<text transform="translate(2007.74,1432.93) scale(0.88,1)" font-family='"Liberation Sans", Arial, sans-serif' font-size="48.5">100</text>
</g>
<text transform="translate(721.75,2617) scale(0.95,1)" font-family='"Liberation Sans", Arial, sans-serif' font-weight="bold" font-size="44.77" fill="#000" >Elution volume (ml)</text>
<text transform="translate(141.5,2232.13) rotate(-90) scale(0.88,1)" font-family='"Liberation Serif", "Times New Roman", serif' font-weight="bold" font-size="51.15">UV absorption &#160;(280 nm, mAu)</text>
<text transform="translate(1861,2189.75) rotate(-90) scale(1.03,1)" font-family='"Liberation Sans", Arial, sans-serif' font-weight="bold" font-size="39.97">Lysozyme activity (U/ml)</text>
<text transform="translate(2154,2362.29) rotate(-90) scale(0.98,1)" font-family='"Liberation Serif", "Times New Roman", serif' font-weight="bold" font-size="47.33">Percentage &#160;elution buffer in loading buffer</text>
<line x1="1370" y1="1738.5" x2="1370" y2="2076.8" stroke="#000" stroke-width="3" stroke-linecap="butt" />
<line x1="1142.7" y1="1816" x2="1499.6" y2="1816" stroke="#000" stroke-width="3" stroke-linecap="butt" />
<text transform="translate(1174.03,1795) scale(1.05,1)" font-family='"Liberation Sans", Arial, sans-serif' font-weight="normal" font-size="43.5">Inhibitor</text>
<text transform="translate(1413.17,1795) scale(1.05,1)" font-family='"Liberation Sans", Arial, sans-serif' font-weight="normal" font-size="43.5">%</text>
<text transform="translate(1225.76,1872.7) scale(1.05,1)" font-family='"Liberation Sans", Arial, sans-serif' font-weight="normal" font-size="43.5">Ivy</text>
<text transform="translate(1394.79,1872.7) scale(1.05,1)" font-family='"Liberation Sans", Arial, sans-serif' font-weight="normal" font-size="43.5">−27</text>
<text transform="translate(1213.7,1963.5) scale(1.05,1)" font-family='"Liberation Sans", Arial, sans-serif' font-weight="normal" font-size="43.5">PliG</text>
<text transform="translate(1394.56,1963.5) scale(1.05,1)" font-family='"Liberation Sans", Arial, sans-serif' font-weight="normal" font-size="43.5">100</text>
<text transform="translate(1225.51,2055) scale(1.05,1)" font-family='"Liberation Sans", Arial, sans-serif' font-weight="normal" font-size="43.5">PliI</text>
<text transform="translate(1407.35,2055) scale(1.05,1)" font-family='"Liberation Sans", Arial, sans-serif' font-weight="normal" font-size="43.5">18</text>
<line x1="292.18" y1="2453.53" x2="300.49" y2="2432.09" stroke="#000" stroke-width="9.5" stroke-linecap="round" />
<line x1="314.19" y1="2396.7" x2="322.86" y2="2374.32" stroke="#000" stroke-width="9.5" stroke-linecap="round" />
<line x1="336.57" y1="2338.93" x2="345.23" y2="2316.55" stroke="#000" stroke-width="9.5" stroke-linecap="round" />
<line x1="358.94" y1="2281.16" x2="367.61" y2="2258.78" stroke="#000" stroke-width="9.5" stroke-linecap="round" />
<line x1="381.31" y1="2223.39" x2="389.98" y2="2201.01" stroke="#000" stroke-width="9.5" stroke-linecap="round" />
<line x1="403.68" y1="2165.62" x2="412.35" y2="2143.24" stroke="#000" stroke-width="9.5" stroke-linecap="round" />
<line x1="426.06" y1="2107.85" x2="434.72" y2="2085.47" stroke="#000" stroke-width="9.5" stroke-linecap="round" />
<line x1="448.43" y1="2050.08" x2="457.1" y2="2027.7" stroke="#000" stroke-width="9.5" stroke-linecap="round" />
<line x1="470.8" y1="1992.31" x2="479.47" y2="1969.93" stroke="#000" stroke-width="9.5" stroke-linecap="round" />
<line x1="493.18" y1="1934.55" x2="501.84" y2="1912.17" stroke="#000" stroke-width="9.5" stroke-linecap="round" />
<line x1="515.55" y1="1876.78" x2="524.22" y2="1854.4" stroke="#000" stroke-width="9.5" stroke-linecap="round" />
<line x1="537.92" y1="1819.01" x2="546.59" y2="1796.63" stroke="#000" stroke-width="9.5" stroke-linecap="round" />
<line x1="560.29" y1="1761.24" x2="568.96" y2="1738.86" stroke="#000" stroke-width="9.5" stroke-linecap="round" />
<line x1="582.67" y1="1703.47" x2="591.34" y2="1681.09" stroke="#000" stroke-width="9.5" stroke-linecap="round" />
<line x1="605.04" y1="1645.7" x2="613.71" y2="1623.32" stroke="#000" stroke-width="9.5" stroke-linecap="round" />
<line x1="627.41" y1="1587.93" x2="636.08" y2="1565.55" stroke="#000" stroke-width="9.5" stroke-linecap="round" />
<line x1="649.79" y1="1530.16" x2="658.45" y2="1507.78" stroke="#000" stroke-width="9.5" stroke-linecap="round" />
<line x1="672.16" y1="1472.39" x2="680.83" y2="1450.01" stroke="#000" stroke-width="9.5" stroke-linecap="round" />
<line x1="696.25" y1="1415.6" x2="725.25" y2="1415.6" stroke="#000" stroke-width="7.5" stroke-linecap="round" />
<line x1="764.35" y1="1415.6" x2="793.35" y2="1415.6" stroke="#000" stroke-width="7.5" stroke-linecap="round" />
<line x1="832.45" y1="1415.6" x2="861.45" y2="1415.6" stroke="#000" stroke-width="7.5" stroke-linecap="round" />
<line x1="900.55" y1="1415.6" x2="929.55" y2="1415.6" stroke="#000" stroke-width="7.5" stroke-linecap="round" />
<line x1="968.65" y1="1415.6" x2="997.65" y2="1415.6" stroke="#000" stroke-width="7.5" stroke-linecap="round" />
<line x1="1036.75" y1="1415.6" x2="1065.75" y2="1415.6" stroke="#000" stroke-width="7.5" stroke-linecap="round" />
<line x1="1102" y1="1420.75" x2="1102" y2="1445.75" stroke="#000" stroke-width="9.5" stroke-linecap="round" />
<line x1="1102" y1="1488.55" x2="1102" y2="1513.55" stroke="#000" stroke-width="9.5" stroke-linecap="round" />
<line x1="1102" y1="1556.35" x2="1102" y2="1581.35" stroke="#000" stroke-width="9.5" stroke-linecap="round" />
<line x1="1102" y1="1624.15" x2="1102" y2="1649.15" stroke="#000" stroke-width="9.5" stroke-linecap="round" />
<line x1="1102" y1="1691.95" x2="1102" y2="1716.95" stroke="#000" stroke-width="9.5" stroke-linecap="round" />
<line x1="1102" y1="1759.75" x2="1102" y2="1784.75" stroke="#000" stroke-width="9.5" stroke-linecap="round" />
<line x1="1102" y1="1827.55" x2="1102" y2="1852.55" stroke="#000" stroke-width="9.5" stroke-linecap="round" />
<line x1="1102" y1="1895.35" x2="1102" y2="1920.35" stroke="#000" stroke-width="9.5" stroke-linecap="round" />
<line x1="1102" y1="1963.15" x2="1102" y2="1988.15" stroke="#000" stroke-width="9.5" stroke-linecap="round" />
<line x1="1102" y1="2030.95" x2="1102" y2="2055.95" stroke="#000" stroke-width="9.5" stroke-linecap="round" />
<line x1="1102" y1="2098.75" x2="1102" y2="2123.75" stroke="#000" stroke-width="9.5" stroke-linecap="round" />
<line x1="1102" y1="2166.55" x2="1102" y2="2191.55" stroke="#000" stroke-width="9.5" stroke-linecap="round" />
<line x1="1102" y1="2234.35" x2="1102" y2="2259.35" stroke="#000" stroke-width="9.5" stroke-linecap="round" />
<line x1="1102" y1="2302.15" x2="1102" y2="2327.15" stroke="#000" stroke-width="9.5" stroke-linecap="round" />
<line x1="1102" y1="2369.95" x2="1102" y2="2394.95" stroke="#000" stroke-width="9.5" stroke-linecap="round" />
<line x1="1102" y1="2437.75" x2="1102" y2="2445" stroke="#000" stroke-width="9.5" stroke-linecap="round" />
<polygon points="727,2250 728.5,1840 731.5,1675 734.2,1515 735.8,1515 738.5,1675 740,1840 741.8,2250 734.5,2318" fill="#000"/>
<path d="M293 2451C309.67 2450.67 334.33 2454.63 343 2450C347.28 2447.71 347.61 2444.01 350 2440C353.23 2434.57 355.76 2426.12 360 2420C364.32 2413.77 370.52 2403.32 375.8 2403C380.52 2402.72 385.36 2410.46 390 2415C395.12 2420.01 400.18 2427.79 405 2432C408.6 2435.14 411.45 2437.77 415.5 2439C419.99 2440.36 426.45 2441.3 431 2439C436.61 2436.16 440.96 2426.59 445 2420C448.93 2413.58 451.02 2405.91 455 2400C458.7 2394.51 463.24 2386.33 467.8 2385.5C471.66 2384.8 475.93 2389.2 480 2392C484.76 2395.27 488.87 2399.66 494.3 2404.4C501.53 2410.7 510.7 2420.6 519.5 2426.5C527.56 2431.9 535.65 2435.7 544.7 2439C554.39 2442.53 564.6 2444.92 576 2446.6C589.34 2448.57 603.15 2448.54 620 2449C642.7 2449.62 683.54 2450.02 700 2449C707.39 2448.54 712.56 2449.17 716 2447C718.47 2445.44 719.18 2444.3 720.5 2440C727.58 2416.88 724.68 2288.09 726 2200C727.61 2092.13 727.28 1936.88 728.5 1840C729.32 1774.4 730.43 1730.57 731.5 1675C732.59 1618.26 733.83 1503 735 1503C736.17 1503 737.66 1618.26 738.5 1675C739.32 1730.57 739.52 1774.41 740 1840C740.71 1936.89 741.06 2109.92 742 2200C742.57 2254.14 742.73 2295.07 744 2330C744.86 2353.61 744.26 2373.84 747.4 2389.3C749.52 2399.72 752.93 2407.86 756.5 2414.7C759.22 2419.92 761.32 2424.24 765.6 2427.5C770.6 2431.3 778.64 2433 785.7 2434.8C793.16 2436.7 801.57 2437.33 809.3 2438.4C816.73 2439.42 824.44 2440.09 831.2 2441.1C837.07 2441.98 840.79 2443.28 847.6 2444C858.64 2445.16 875.66 2444.9 891.3 2445.5C909.43 2446.2 931.22 2447.32 950 2448C967.33 2448.63 980.47 2449.11 1000 2449.5C1027.61 2450.05 1081.4 2449.36 1100 2450.5C1107.22 2450.94 1109.76 2452.01 1115 2452.2C1120.72 2452.41 1128.57 2453.13 1133 2451.5C1136.11 2450.36 1137.74 2447.57 1140 2446C1141.96 2444.64 1143.72 2442.61 1145.7 2442.5C1147.72 2442.39 1149.5 2444.43 1152 2445.5C1155.53 2447.02 1159.5 2449.34 1165 2450.5C1173.73 2452.34 1185.08 2451.84 1200 2452.2C1226.44 2452.84 1273.33 2452.2 1310 2452.2" fill="none" stroke="#000" stroke-width="9.5" stroke-linejoin="round" stroke-linecap="round" />
<polyline points="306.4,2452.2 327.4,2452.2 348.4,2452.2 369.4,2452.2 390.4,2452.2 411.4,2452.2 432.4,2452.2 453.4,2452.2 474.4,2452.2 495.4,2452.2 516.4,2452.2 537.4,2452.2 558.4,2452.2 579.4,2452.2 600.4,2452.2 621.4,2452.2 642.4,2451 662.8,2446 683.7,2447.5 698.3,2443 712.8,2449 733.1,1849.2 754.7,2339.2 774.7,2436.6 796.6,2440.2 817.5,2440.2 838.5,2450 859.5,2452.2 880.5,2452.2 901.5,2452.2 922.5,2452.2 943.5,2452.2 964.5,2452.2 985.5,2452.2 1006.5,2452.2 1027.5,2452.2 1048.5,2452.2 1069.5,2452.2 1090.5,2452.2 1103.6,2452.2" fill="none" stroke="#bdbdbd" stroke-width="8" stroke-linejoin="round" stroke-linecap="round" />
<path d="M306.4 2438.2L319.9 2452.2L306.4 2466.2L292.9 2452.2ZM327.4 2438.2L340.9 2452.2L327.4 2466.2L313.9 2452.2ZM348.4 2438.2L361.9 2452.2L348.4 2466.2L334.9 2452.2ZM369.4 2438.2L382.9 2452.2L369.4 2466.2L355.9 2452.2ZM390.4 2438.2L403.9 2452.2L390.4 2466.2L376.9 2452.2ZM411.4 2438.2L424.9 2452.2L411.4 2466.2L397.9 2452.2ZM432.4 2438.2L445.9 2452.2L432.4 2466.2L418.9 2452.2ZM453.4 2438.2L466.9 2452.2L453.4 2466.2L439.9 2452.2ZM474.4 2438.2L487.9 2452.2L474.4 2466.2L460.9 2452.2ZM495.4 2438.2L508.9 2452.2L495.4 2466.2L481.9 2452.2ZM516.4 2438.2L529.9 2452.2L516.4 2466.2L502.9 2452.2ZM537.4 2438.2L550.9 2452.2L537.4 2466.2L523.9 2452.2ZM558.4 2438.2L571.9 2452.2L558.4 2466.2L544.9 2452.2ZM579.4 2438.2L592.9 2452.2L579.4 2466.2L565.9 2452.2ZM600.4 2438.2L613.9 2452.2L600.4 2466.2L586.9 2452.2ZM621.4 2438.2L634.9 2452.2L621.4 2466.2L607.9 2452.2ZM642.4 2437L655.9 2451L642.4 2465L628.9 2451ZM662.8 2432L676.3 2446L662.8 2460L649.3 2446ZM683.7 2433.5L697.2 2447.5L683.7 2461.5L670.2 2447.5ZM698.3 2429L711.8 2443L698.3 2457L684.8 2443ZM712.8 2435L726.3 2449L712.8 2463L699.3 2449ZM733.1 1835.2L746.6 1849.2L733.1 1863.2L719.6 1849.2ZM754.7 2325.2L768.2 2339.2L754.7 2353.2L741.2 2339.2ZM774.7 2422.6L788.2 2436.6L774.7 2450.6L761.2 2436.6ZM796.6 2426.2L810.1 2440.2L796.6 2454.2L783.1 2440.2ZM817.5 2426.2L831 2440.2L817.5 2454.2L804 2440.2ZM838.5 2436L852 2450L838.5 2464L825 2450ZM859.5 2438.2L873 2452.2L859.5 2466.2L846 2452.2ZM880.5 2438.2L894 2452.2L880.5 2466.2L867 2452.2ZM901.5 2438.2L915 2452.2L901.5 2466.2L888 2452.2ZM922.5 2438.2L936 2452.2L922.5 2466.2L909 2452.2ZM943.5 2438.2L957 2452.2L943.5 2466.2L930 2452.2ZM964.5 2438.2L978 2452.2L964.5 2466.2L951 2452.2ZM985.5 2438.2L999 2452.2L985.5 2466.2L972 2452.2ZM1006.5 2438.2L1020 2452.2L1006.5 2466.2L993 2452.2ZM1027.5 2438.2L1041 2452.2L1027.5 2466.2L1014 2452.2ZM1048.5 2438.2L1062 2452.2L1048.5 2466.2L1035 2452.2ZM1069.5 2438.2L1083 2452.2L1069.5 2466.2L1056 2452.2ZM1090.5 2438.2L1104 2452.2L1090.5 2466.2L1077 2452.2ZM1103.6 2438.2L1117.1 2452.2L1103.6 2466.2L1090.1 2452.2Z" fill="#bdbdbd"/>
<text transform="translate(28.98,2765.2) scale(1.01,1)" font-family='"Liberation Sans", Arial, sans-serif' font-weight="normal" font-size="93.7" fill="#000" stroke="#fff" stroke-width="2.6">C</text>
<line x1="291" y1="2717.6" x2="291" y2="3787" stroke="#000" stroke-width="6" stroke-linecap="butt" />
<line x1="291" y1="3784" x2="1552.4" y2="3784" stroke="#000" stroke-width="6" stroke-linecap="butt" />
<line x1="1552.4" y1="2717.6" x2="1552.4" y2="3787" stroke="#000" stroke-width="6" stroke-linecap="butt" />
<line x1="1967.5" y1="2717" x2="1967.5" y2="3784.5" stroke="#000" stroke-width="6" stroke-linecap="butt" />
<g stroke="#fff" stroke-width="1.0">
<line x1="277" y1="3784" x2="291" y2="3784" stroke="#000" stroke-width="6" stroke-linecap="butt" />
<text transform="translate(227.56,3800.93) scale(0.88,1)" font-family='"Liberation Sans", Arial, sans-serif' font-weight="normal" font-size="48.5">0</text>
<line x1="277" y1="3651.07" x2="291" y2="3651.07" stroke="#000" stroke-width="6" stroke-linecap="butt" />
<text transform="translate(180.37,3668) scale(0.88,1)" font-family='"Liberation Sans", Arial, sans-serif' font-weight="normal" font-size="48.5">100</text>
<line x1="277" y1="3518.15" x2="291" y2="3518.15" stroke="#000" stroke-width="6" stroke-linecap="butt" />
<text transform="translate(180.37,3535.08) scale(0.88,1)" font-family='"Liberation Sans", Arial, sans-serif' font-weight="normal" font-size="48.5">200</text>
<line x1="277" y1="3385.22" x2="291" y2="3385.22" stroke="#000" stroke-width="6" stroke-linecap="butt" />
<text transform="translate(180.37,3402.15) scale(0.88,1)" font-family='"Liberation Sans", Arial, sans-serif' font-weight="normal" font-size="48.5">300</text>
<line x1="277" y1="3252.3" x2="291" y2="3252.3" stroke="#000" stroke-width="6" stroke-linecap="butt" />
<text transform="translate(180.37,3269.23) scale(0.88,1)" font-family='"Liberation Sans", Arial, sans-serif' font-weight="normal" font-size="48.5">400</text>
<line x1="277" y1="3119.38" x2="291" y2="3119.38" stroke="#000" stroke-width="6" stroke-linecap="butt" />
<text transform="translate(180.37,3136.3) scale(0.88,1)" font-family='"Liberation Sans", Arial, sans-serif' font-weight="normal" font-size="48.5">500</text>
<line x1="277" y1="2986.45" x2="291" y2="2986.45" stroke="#000" stroke-width="6" stroke-linecap="butt" />
<text transform="translate(180.37,3003.38) scale(0.88,1)" font-family='"Liberation Sans", Arial, sans-serif' font-weight="normal" font-size="48.5">600</text>
<line x1="277" y1="2853.52" x2="291" y2="2853.52" stroke="#000" stroke-width="6" stroke-linecap="butt" />
<text transform="translate(180.37,2870.45) scale(0.88,1)" font-family='"Liberation Sans", Arial, sans-serif' font-weight="normal" font-size="48.5">700</text>
<line x1="277" y1="2720.6" x2="291" y2="2720.6" stroke="#000" stroke-width="6" stroke-linecap="butt" />
<text transform="translate(180.37,2737.53) scale(0.88,1)" font-family='"Liberation Sans", Arial, sans-serif' font-weight="normal" font-size="48.5">800</text>
<line x1="291" y1="3784" x2="291" y2="3798" stroke="#000" stroke-width="6" stroke-linecap="butt" />
<text transform="translate(277.7,3864) scale(0.88,1)" font-family='"Liberation Sans", Arial, sans-serif' font-weight="normal" font-size="48.5">0</text>
<line x1="501.23" y1="3784" x2="501.23" y2="3798" stroke="#000" stroke-width="6" stroke-linecap="butt" />
<text transform="translate(475.35,3864) scale(0.88,1)" font-family='"Liberation Sans", Arial, sans-serif' font-weight="normal" font-size="48.5">10</text>
<line x1="711.47" y1="3784" x2="711.47" y2="3798" stroke="#000" stroke-width="6" stroke-linecap="butt" />
<text transform="translate(686.14,3864) scale(0.88,1)" font-family='"Liberation Sans", Arial, sans-serif' font-weight="normal" font-size="48.5">20</text>
<line x1="921.7" y1="3784" x2="921.7" y2="3798" stroke="#000" stroke-width="6" stroke-linecap="butt" />
<text transform="translate(896.63,3864) scale(0.88,1)" font-family='"Liberation Sans", Arial, sans-serif' font-weight="normal" font-size="48.5">30</text>
<line x1="1131.93" y1="3784" x2="1131.93" y2="3798" stroke="#000" stroke-width="6" stroke-linecap="butt" />
<text transform="translate(1107.18,3864) scale(0.88,1)" font-family='"Liberation Sans", Arial, sans-serif' font-weight="normal" font-size="48.5">40</text>
<line x1="1342.17" y1="3784" x2="1342.17" y2="3798" stroke="#000" stroke-width="6" stroke-linecap="butt" />
<text transform="translate(1317.05,3864) scale(0.88,1)" font-family='"Liberation Sans", Arial, sans-serif' font-weight="normal" font-size="48.5">50</text>
<line x1="1552.4" y1="3784" x2="1552.4" y2="3798" stroke="#000" stroke-width="6" stroke-linecap="butt" />
<text transform="translate(1527.05,3864) scale(0.88,1)" font-family='"Liberation Sans", Arial, sans-serif' font-weight="normal" font-size="48.5">60</text>
</g>
<line x1="1552.4" y1="3784" x2="1565.4" y2="3784" stroke="#000" stroke-width="6" stroke-linecap="butt" />
<text word-spacing="2.13" transform="translate(1598.72,3801.5) scale(0.94,1)" font-family='"Liberation Sans", Arial, sans-serif' font-weight="normal" font-size="48.5">0.0 × 10</text>
<text transform="translate(1770.48,3786.95) scale(0.94,1)" font-family='"Liberation Sans", Arial, sans-serif' font-weight="normal" font-size="32.5">4</text>
<line x1="1552.4" y1="3606.77" x2="1565.4" y2="3606.77" stroke="#000" stroke-width="6" stroke-linecap="butt" />
<text word-spacing="2.13" transform="translate(1598.72,3624.27) scale(0.94,1)" font-family='"Liberation Sans", Arial, sans-serif' font-weight="normal" font-size="48.5">0.5 × 10</text>
<text transform="translate(1770.48,3609.72) scale(0.94,1)" font-family='"Liberation Sans", Arial, sans-serif' font-weight="normal" font-size="32.5">4</text>
<line x1="1552.4" y1="3429.53" x2="1565.4" y2="3429.53" stroke="#000" stroke-width="6" stroke-linecap="butt" />
<text word-spacing="2.13" transform="translate(1597.04,3447.03) scale(0.94,1)" font-family='"Liberation Sans", Arial, sans-serif' font-weight="normal" font-size="48.5">1.0 × 10</text>
<text transform="translate(1768.79,3432.48) scale(0.94,1)" font-family='"Liberation Sans", Arial, sans-serif' font-weight="normal" font-size="32.5">4</text>
<line x1="1552.4" y1="3252.3" x2="1565.4" y2="3252.3" stroke="#000" stroke-width="6" stroke-linecap="butt" />
<text word-spacing="2.13" transform="translate(1597.04,3269.8) scale(0.94,1)" font-family='"Liberation Sans", Arial, sans-serif' font-weight="normal" font-size="48.5">1.5 × 10</text>
<text transform="translate(1768.79,3255.25) scale(0.94,1)" font-family='"Liberation Sans", Arial, sans-serif' font-weight="normal" font-size="32.5">4</text>
<line x1="1552.4" y1="3075.07" x2="1565.4" y2="3075.07" stroke="#000" stroke-width="6" stroke-linecap="butt" />
<text word-spacing="2.13" transform="translate(1598.22,3092.57) scale(0.94,1)" font-family='"Liberation Sans", Arial, sans-serif' font-weight="normal" font-size="48.5">2.0 × 10</text>
<text transform="translate(1769.98,3078.02) scale(0.94,1)" font-family='"Liberation Sans", Arial, sans-serif' font-weight="normal" font-size="32.5">4</text>
<line x1="1552.4" y1="2897.83" x2="1565.4" y2="2897.83" stroke="#000" stroke-width="6" stroke-linecap="butt" />
<text word-spacing="2.13" transform="translate(1598.22,2915.33) scale(0.94,1)" font-family='"Liberation Sans", Arial, sans-serif' font-weight="normal" font-size="48.5">2.5 × 10</text>
<text transform="translate(1769.98,2900.78) scale(0.94,1)" font-family='"Liberation Sans", Arial, sans-serif' font-weight="normal" font-size="32.5">4</text>
<line x1="1552.4" y1="2720.6" x2="1565.4" y2="2720.6" stroke="#000" stroke-width="6" stroke-linecap="butt" />
<text word-spacing="2.13" transform="translate(1598.77,2738.1) scale(0.94,1)" font-family='"Liberation Sans", Arial, sans-serif' font-weight="normal" font-size="48.5">3.0 × 10</text>
<text transform="translate(1770.53,2723.55) scale(0.94,1)" font-family='"Liberation Sans", Arial, sans-serif' font-weight="normal" font-size="32.5">4</text>
<g stroke="#fff" stroke-width="1.0">
<line x1="1967.5" y1="3781.5" x2="1979.5" y2="3781.5" stroke="#000" stroke-width="6" stroke-linecap="butt" />
<text transform="translate(2007.74,3798.43) scale(0.88,1)" font-family='"Liberation Sans", Arial, sans-serif' font-size="48.5">0</text>
<line x1="1967.5" y1="3675.35" x2="1979.5" y2="3675.35" stroke="#000" stroke-width="6" stroke-linecap="butt" />
<text transform="translate(2007.74,3692.28) scale(0.88,1)" font-family='"Liberation Sans", Arial, sans-serif' font-size="48.5">10</text>
<line x1="1967.5" y1="3569.2" x2="1979.5" y2="3569.2" stroke="#000" stroke-width="6" stroke-linecap="butt" />
<text transform="translate(2007.74,3586.13) scale(0.88,1)" font-family='"Liberation Sans", Arial, sans-serif' font-size="48.5">20</text>
<line x1="1967.5" y1="3463.05" x2="1979.5" y2="3463.05" stroke="#000" stroke-width="6" stroke-linecap="butt" />
<text transform="translate(2007.74,3479.98) scale(0.88,1)" font-family='"Liberation Sans", Arial, sans-serif' font-size="48.5">30</text>
<line x1="1967.5" y1="3356.9" x2="1979.5" y2="3356.9" stroke="#000" stroke-width="6" stroke-linecap="butt" />
<text transform="translate(2007.74,3373.83) scale(0.88,1)" font-family='"Liberation Sans", Arial, sans-serif' font-size="48.5">40</text>
<line x1="1967.5" y1="3250.75" x2="1979.5" y2="3250.75" stroke="#000" stroke-width="6" stroke-linecap="butt" />
<text transform="translate(2007.74,3267.68) scale(0.88,1)" font-family='"Liberation Sans", Arial, sans-serif' font-size="48.5">50</text>
<line x1="1967.5" y1="3144.6" x2="1979.5" y2="3144.6" stroke="#000" stroke-width="6" stroke-linecap="butt" />
<text transform="translate(2007.74,3161.53) scale(0.88,1)" font-family='"Liberation Sans", Arial, sans-serif' font-size="48.5">60</text>
<line x1="1967.5" y1="3038.45" x2="1979.5" y2="3038.45" stroke="#000" stroke-width="6" stroke-linecap="butt" />
<text transform="translate(2007.74,3055.38) scale(0.88,1)" font-family='"Liberation Sans", Arial, sans-serif' font-size="48.5">70</text>
<line x1="1967.5" y1="2932.3" x2="1979.5" y2="2932.3" stroke="#000" stroke-width="6" stroke-linecap="butt" />
<text transform="translate(2007.74,2949.23) scale(0.88,1)" font-family='"Liberation Sans", Arial, sans-serif' font-size="48.5">80</text>
<line x1="1967.5" y1="2826.15" x2="1979.5" y2="2826.15" stroke="#000" stroke-width="6" stroke-linecap="butt" />
<text transform="translate(2007.74,2843.08) scale(0.88,1)" font-family='"Liberation Sans", Arial, sans-serif' font-size="48.5">90</text>
<line x1="1967.5" y1="2720" x2="1979.5" y2="2720" stroke="#000" stroke-width="6" stroke-linecap="butt" />
<text transform="translate(2007.74,2736.93) scale(0.88,1)" font-family='"Liberation Sans", Arial, sans-serif' font-size="48.5">100</text>
</g>
<text transform="translate(721.75,3947) scale(0.95,1)" font-family='"Liberation Sans", Arial, sans-serif' font-weight="bold" font-size="44.77" fill="#000" >Elution volume (ml)</text>
<text transform="translate(142,3552.13) rotate(-90) scale(0.91,1)" font-family='"Liberation Serif", "Times New Roman", serif' font-weight="bold" font-size="49.62">UV absorption &#160;(280 nm, mAu)</text>
<text transform="translate(1861,3504.75) rotate(-90) scale(1.03,1)" font-family='"Liberation Sans", Arial, sans-serif' font-weight="bold" font-size="39.97">Lysozyme activity (U/ml)</text>
<text transform="translate(2154,3677.39) rotate(-90) scale(0.98,1)" font-family='"Liberation Serif", "Times New Roman", serif' font-weight="bold" font-size="47.33">Percentage &#160;elution buffer in loading buffer</text>
<line x1="1379.3" y1="3114" x2="1379.3" y2="3451.5" stroke="#000" stroke-width="3" stroke-linecap="butt" />
<line x1="1152.8" y1="3191.6" x2="1507.4" y2="3191.6" stroke="#000" stroke-width="3" stroke-linecap="butt" />
<text transform="translate(1182.93,3172) scale(1.05,1)" font-family='"Liberation Sans", Arial, sans-serif' font-weight="normal" font-size="43.5">Inhibitor</text>
<text transform="translate(1423.17,3172) scale(1.05,1)" font-family='"Liberation Sans", Arial, sans-serif' font-weight="normal" font-size="43.5">%</text>
<text transform="translate(1234.66,3247.5) scale(1.05,1)" font-family='"Liberation Sans", Arial, sans-serif' font-weight="normal" font-size="43.5">Ivy</text>
<text transform="translate(1404.74,3247.5) scale(1.05,1)" font-family='"Liberation Sans", Arial, sans-serif' font-weight="normal" font-size="43.5">109</text>
<text transform="translate(1222.6,3339) scale(1.05,1)" font-family='"Liberation Sans", Arial, sans-serif' font-weight="normal" font-size="43.5">PliG</text>
<text transform="translate(1406.46,3339) scale(1.05,1)" font-family='"Liberation Sans", Arial, sans-serif' font-weight="normal" font-size="43.5">−11</text>
<text transform="translate(1234.41,3430.6) scale(1.05,1)" font-family='"Liberation Sans", Arial, sans-serif' font-weight="normal" font-size="43.5">PliI</text>
<text transform="translate(1417.47,3430.6) scale(1.05,1)" font-family='"Liberation Sans", Arial, sans-serif' font-weight="normal" font-size="43.5">−1</text>
<line x1="290.98" y1="3782.53" x2="299.51" y2="3760.1" stroke="#000" stroke-width="9.5" stroke-linecap="round" />
<line x1="313.34" y1="3723.74" x2="321.87" y2="3701.31" stroke="#000" stroke-width="9.5" stroke-linecap="round" />
<line x1="335.7" y1="3664.95" x2="344.24" y2="3642.52" stroke="#000" stroke-width="9.5" stroke-linecap="round" />
<line x1="358.07" y1="3606.16" x2="366.6" y2="3583.73" stroke="#000" stroke-width="9.5" stroke-linecap="round" />
<line x1="380.43" y1="3547.37" x2="388.96" y2="3524.94" stroke="#000" stroke-width="9.5" stroke-linecap="round" />
<line x1="402.79" y1="3488.58" x2="411.32" y2="3466.15" stroke="#000" stroke-width="9.5" stroke-linecap="round" />
<line x1="425.15" y1="3429.79" x2="433.69" y2="3407.36" stroke="#000" stroke-width="9.5" stroke-linecap="round" />
<line x1="447.52" y1="3371" x2="456.05" y2="3348.57" stroke="#000" stroke-width="9.5" stroke-linecap="round" />
<line x1="469.88" y1="3312.21" x2="478.41" y2="3289.78" stroke="#000" stroke-width="9.5" stroke-linecap="round" />
<line x1="492.24" y1="3253.42" x2="500.77" y2="3230.99" stroke="#000" stroke-width="9.5" stroke-linecap="round" />
<line x1="514.6" y1="3194.63" x2="523.14" y2="3172.2" stroke="#000" stroke-width="9.5" stroke-linecap="round" />
<line x1="536.97" y1="3135.84" x2="545.5" y2="3113.4" stroke="#000" stroke-width="9.5" stroke-linecap="round" />
<line x1="559.33" y1="3077.05" x2="567.86" y2="3054.61" stroke="#000" stroke-width="9.5" stroke-linecap="round" />
<line x1="581.69" y1="3018.26" x2="590.22" y2="2995.82" stroke="#000" stroke-width="9.5" stroke-linecap="round" />
<line x1="604.05" y1="2959.47" x2="612.59" y2="2937.03" stroke="#000" stroke-width="9.5" stroke-linecap="round" />
<line x1="626.42" y1="2900.67" x2="634.95" y2="2878.24" stroke="#000" stroke-width="9.5" stroke-linecap="round" />
<line x1="648.78" y1="2841.88" x2="657.31" y2="2819.45" stroke="#000" stroke-width="9.5" stroke-linecap="round" />
<line x1="671.14" y1="2783.09" x2="679.67" y2="2760.66" stroke="#000" stroke-width="9.5" stroke-linecap="round" />
<line x1="694.55" y1="2723.3" x2="723.55" y2="2723.3" stroke="#000" stroke-width="7.5" stroke-linecap="round" />
<line x1="762.75" y1="2723.3" x2="791.75" y2="2723.3" stroke="#000" stroke-width="7.5" stroke-linecap="round" />
<line x1="830.95" y1="2723.3" x2="859.95" y2="2723.3" stroke="#000" stroke-width="7.5" stroke-linecap="round" />
<line x1="899.15" y1="2723.3" x2="928.15" y2="2723.3" stroke="#000" stroke-width="7.5" stroke-linecap="round" />
<line x1="967.35" y1="2723.3" x2="996.35" y2="2723.3" stroke="#000" stroke-width="7.5" stroke-linecap="round" />
<line x1="1035.55" y1="2723.3" x2="1064.55" y2="2723.3" stroke="#000" stroke-width="7.5" stroke-linecap="round" />
<line x1="1103.5" y1="2725.5" x2="1103.5" y2="2750.5" stroke="#000" stroke-width="9.5" stroke-linecap="round" />
<line x1="1103.5" y1="2793.1" x2="1103.5" y2="2818.1" stroke="#000" stroke-width="9.5" stroke-linecap="round" />
<line x1="1103.5" y1="2860.7" x2="1103.5" y2="2885.7" stroke="#000" stroke-width="9.5" stroke-linecap="round" />
<line x1="1103.5" y1="2928.3" x2="1103.5" y2="2953.3" stroke="#000" stroke-width="9.5" stroke-linecap="round" />
<line x1="1103.5" y1="2995.9" x2="1103.5" y2="3020.9" stroke="#000" stroke-width="9.5" stroke-linecap="round" />
<line x1="1103.5" y1="3063.5" x2="1103.5" y2="3088.5" stroke="#000" stroke-width="9.5" stroke-linecap="round" />
<line x1="1103.5" y1="3131.1" x2="1103.5" y2="3156.1" stroke="#000" stroke-width="9.5" stroke-linecap="round" />
<line x1="1103.5" y1="3198.7" x2="1103.5" y2="3223.7" stroke="#000" stroke-width="9.5" stroke-linecap="round" />
<line x1="1103.5" y1="3266.3" x2="1103.5" y2="3291.3" stroke="#000" stroke-width="9.5" stroke-linecap="round" />
<line x1="1103.5" y1="3333.9" x2="1103.5" y2="3358.9" stroke="#000" stroke-width="9.5" stroke-linecap="round" />
<line x1="1103.5" y1="3401.5" x2="1103.5" y2="3426.5" stroke="#000" stroke-width="9.5" stroke-linecap="round" />
<line x1="1103.5" y1="3469.1" x2="1103.5" y2="3494.1" stroke="#000" stroke-width="9.5" stroke-linecap="round" />
<line x1="1103.5" y1="3536.7" x2="1103.5" y2="3561.7" stroke="#000" stroke-width="9.5" stroke-linecap="round" />
<line x1="1103.5" y1="3604.3" x2="1103.5" y2="3629.3" stroke="#000" stroke-width="9.5" stroke-linecap="round" />
<line x1="1103.5" y1="3671.9" x2="1103.5" y2="3696.9" stroke="#000" stroke-width="9.5" stroke-linecap="round" />
<line x1="1103.5" y1="3739.5" x2="1103.5" y2="3764.5" stroke="#000" stroke-width="9.5" stroke-linecap="round" />
<path d="M293 3783C328.67 3782.83 368.1 3782.92 400 3782.5C425.8 3782.16 451.74 3781.98 470 3781C481.77 3780.37 489.64 3779.72 499 3778.5C507.88 3777.35 516.72 3775.3 524.8 3774C531.94 3772.85 538.72 3771.77 545 3771C550.44 3770.33 555.25 3769.58 560.3 3769.5C565.25 3769.43 570.15 3769.91 575 3770.5C579.82 3771.08 583.68 3772.22 589.3 3773C597.26 3774.11 610.05 3775.06 618.3 3776C624.45 3776.7 627.65 3777.4 634.4 3778C645.72 3779.01 665.49 3780.01 680 3780.5C693.24 3780.95 711.24 3785.26 718 3781C722.07 3778.44 722.17 3775.64 723.8 3768.5C731.02 3736.97 726.39 3585.04 728 3500C729.46 3423.01 731.81 3357.75 732.9 3280C734.13 3192.29 733.72 3083.66 734.5 3000C735.14 2932.05 734.47 2815.43 736.9 2815.3C737.96 2815.24 739.81 2836.4 741 2850C742.69 2869.26 744.16 2895.88 745 2920C745.9 2945.77 745.86 2969.18 746 3000C746.19 3042.21 745.67 3100.51 745.5 3150C745.33 3198.49 744.27 3245.72 745 3294C745.74 3342.88 747.7 3397 750 3441.5C751.9 3478.33 754.82 3508.76 757 3542.4C759.18 3576.03 760.58 3615.46 763.1 3643.3C764.89 3663.05 766.28 3677.99 769.2 3693.8C771.84 3708.1 775.68 3721.76 779.3 3734.2C782.47 3745.09 784.94 3756.63 789.4 3764.5C792.8 3770.5 795.85 3775.71 801.5 3778.6C808.51 3782.19 818.39 3780.43 830 3781C848.17 3781.89 874.59 3781.69 900 3782C930.37 3782.37 966.67 3782.75 1000 3783C1033.33 3783.25 1066.67 3783.33 1100 3783.5" fill="none" stroke="#000" stroke-width="6.5" stroke-linejoin="round" stroke-linecap="round" />
<path d="M1125 3784C1127 3782.77 1128.1 3781.12 1131 3780.3C1136.77 3778.66 1153.23 3778.66 1159 3780.3C1161.9 3781.12 1163 3782.77 1165 3784" fill="none" stroke="#000" stroke-width="6.5" stroke-linejoin="round" stroke-linecap="round" />
<path d="M1192 3784C1194 3782.77 1195.18 3781.1 1198 3780.3C1203.21 3778.82 1216.79 3778.82 1222 3780.3C1224.82 3781.1 1226 3782.77 1228 3784" fill="none" stroke="#000" stroke-width="6.5" stroke-linejoin="round" stroke-linecap="round" />
<path d="M1261 3784C1263 3782.77 1264.2 3781.09 1267 3780.3C1272.06 3778.87 1284.94 3778.87 1290 3780.3C1292.8 3781.09 1294 3782.77 1296 3784" fill="none" stroke="#000" stroke-width="6.5" stroke-linejoin="round" stroke-linecap="round" />
<polyline points="305.8,3784 326.74,3784 347.68,3784 368.62,3784 389.56,3784 410.5,3784 431.44,3784 452.38,3784 473.32,3784 494.26,3784 515.2,3784 536.14,3784 557.08,3784 578.02,3784 598.96,3784 619.9,3784 640.84,3784 661.78,3784 682.72,3784 703.66,3784 714.5,3784 732.9,2861.8 756,3284 775.2,3699.9 797,3776 817.6,3784 838.6,3784 859.6,3784 880.6,3784 901.6,3784 922.6,3784 943.6,3784 964.6,3784 985.6,3784 1006.6,3784 1027.6,3784 1048.6,3784 1069.6,3784 1090.6,3784" fill="none" stroke="#bdbdbd" stroke-width="8" stroke-linejoin="round" stroke-linecap="round" />
<path d="M305.8 3770L319.3 3784L305.8 3798L292.3 3784ZM326.74 3770L340.24 3784L326.74 3798L313.24 3784ZM347.68 3770L361.18 3784L347.68 3798L334.18 3784ZM368.62 3770L382.12 3784L368.62 3798L355.12 3784ZM389.56 3770L403.06 3784L389.56 3798L376.06 3784ZM410.5 3770L424 3784L410.5 3798L397 3784ZM431.44 3770L444.94 3784L431.44 3798L417.94 3784ZM452.38 3770L465.88 3784L452.38 3798L438.88 3784ZM473.32 3770L486.82 3784L473.32 3798L459.82 3784ZM494.26 3770L507.76 3784L494.26 3798L480.76 3784ZM515.2 3770L528.7 3784L515.2 3798L501.7 3784ZM536.14 3770L549.64 3784L536.14 3798L522.64 3784ZM557.08 3770L570.58 3784L557.08 3798L543.58 3784ZM578.02 3770L591.52 3784L578.02 3798L564.52 3784ZM598.96 3770L612.46 3784L598.96 3798L585.46 3784ZM619.9 3770L633.4 3784L619.9 3798L606.4 3784ZM640.84 3770L654.34 3784L640.84 3798L627.34 3784ZM661.78 3770L675.28 3784L661.78 3798L648.28 3784ZM682.72 3770L696.22 3784L682.72 3798L669.22 3784ZM703.66 3770L717.16 3784L703.66 3798L690.16 3784ZM714.5 3770L728 3784L714.5 3798L701 3784ZM732.9 2847.8L746.4 2861.8L732.9 2875.8L719.4 2861.8ZM756 3270L769.5 3284L756 3298L742.5 3284ZM775.2 3685.9L788.7 3699.9L775.2 3713.9L761.7 3699.9ZM797 3762L810.5 3776L797 3790L783.5 3776ZM817.6 3770L831.1 3784L817.6 3798L804.1 3784ZM838.6 3770L852.1 3784L838.6 3798L825.1 3784ZM859.6 3770L873.1 3784L859.6 3798L846.1 3784ZM880.6 3770L894.1 3784L880.6 3798L867.1 3784ZM901.6 3770L915.1 3784L901.6 3798L888.1 3784ZM922.6 3770L936.1 3784L922.6 3798L909.1 3784ZM943.6 3770L957.1 3784L943.6 3798L930.1 3784ZM964.6 3770L978.1 3784L964.6 3798L951.1 3784ZM985.6 3770L999.1 3784L985.6 3798L972.1 3784ZM1006.6 3770L1020.1 3784L1006.6 3798L993.1 3784ZM1027.6 3770L1041.1 3784L1027.6 3798L1014.1 3784ZM1048.6 3770L1062.1 3784L1048.6 3798L1035.1 3784ZM1069.6 3770L1083.1 3784L1069.6 3798L1056.1 3784ZM1090.6 3770L1104.1 3784L1090.6 3798L1077.1 3784Z" fill="#bdbdbd"/>
</svg></body></html>
